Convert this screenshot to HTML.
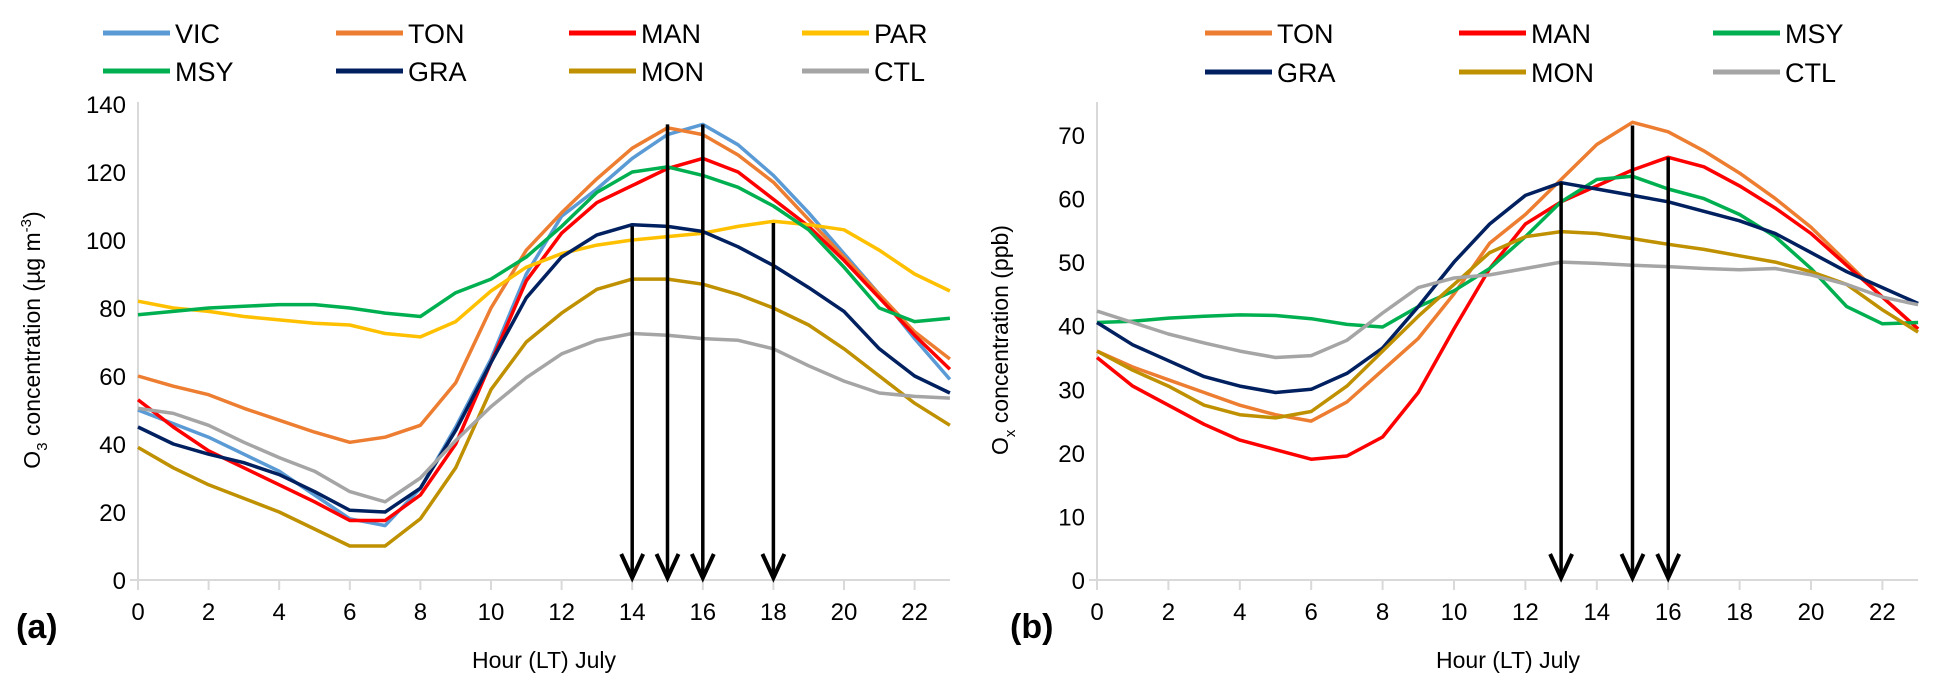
<!DOCTYPE html>
<html><head><meta charset="utf-8"><style>
html,body{margin:0;padding:0;background:#fff;}
svg{display:block;font-family:"Liberation Sans",sans-serif;}
</style></head><body>
<svg id="chart" width="1941" height="695" viewBox="0 0 1941 695" xmlns="http://www.w3.org/2000/svg"></svg>
<script>
const hours = [0,1,2,3,4,5,6,7,8,9,10,11,12,13,14,15,16,17,18,19,20,21,22,23];
const xTicksLabels = [0,2,4,6,8,10,12,14,16,18,20,22];
const aYTicks = [0,20,40,60,80,100,120,140];
const bYTicks = [0,10,20,30,40,50,60,70];
const aVIC = [50,46,42,37,32,25,18,16,27,45,65,90,107,115,124,131,134,128,119,108,96,84,71,59];
const aTON = [60,57,54.5,50.5,47,43.5,40.5,42,45.5,58,80,97,108,118,127,133,131,125,117,106,95,84,73,65];
const aMAN = [53,45,38,33,28,23,17.5,17.5,25,40,64,88,102,111,116,121,124,120,112,104,94,83,72,62];
const aPAR = [82,80,79,77.5,76.5,75.5,75,72.5,71.5,76,85,92,96,98.5,100,101,102,104,105.5,104.5,103,97,90,85];
const aMSY = [78,79,80,80.5,81,81,80,78.5,77.5,84.5,88.5,95,104,114,120,121.5,119,115.5,110,103,92,80,76,77];
const aGRA = [45,40,37,34.5,31,26,20.5,20,27,44,64,83,95,101.5,104.5,104,102.5,98,92.5,86,79,68,60,55];
const aMON = [39,33,28,24,20,15,10,10,18,33,56,70,78.5,85.5,88.5,88.5,87,84,80,75,68,60,52,45.5];
const aCTL = [50.5,49,45.5,40.5,36,32,26,23,30,41,51,59.5,66.5,70.5,72.5,72,71,70.5,68,63,58.5,55,54,53.5];
const bTON = [36,33.5,31.5,29.5,27.5,26,25,28,33,38,45,53,57.5,63,68.5,72,70.5,67.5,64,60,55.5,50,44.5,39.5];
const bMAN = [35,30.5,27.5,24.5,22,20.5,19,19.5,22.5,29.5,39.5,49,56,59.5,62,64.5,66.5,65,62,58.5,54.5,49.5,44.5,39.5];
const bMSY = [40.5,40.7,41.2,41.5,41.7,41.6,41.1,40.2,39.8,43,45.5,49,54,59.5,63,63.5,61.5,60,57.5,54,49,43,40.3,40.5];
const bGRA = [40.5,37,34.5,32,30.5,29.5,30,32.5,36.5,43,50,56,60.5,62.5,61.5,60.5,59.5,58,56.5,54.5,51.5,48.5,46,43.5];
const bMON = [36,33,30.5,27.5,26,25.5,26.5,30.5,36,41.5,46.5,51.5,54,54.8,54.5,53.7,52.8,52,51,50,48.5,46.5,42.5,39];
const bCTL = [42.3,40.5,38.7,37.3,36,35,35.3,37.7,42,46,47.5,48,49,50,49.8,49.5,49.3,49,48.8,49,48,46.5,44.5,43.3];
const aArrowHours = [14,15,16,18];
const aArrowTops = [104,134,134,105];
const bArrowHours = [13,15,16];
const bArrowTops = [62.5,71.5,66.5];

const C = {VIC:'#5b9bd5',TON:'#ed7d31',MAN:'#ff0000',PAR:'#ffc000',MSY:'#00b050',GRA:'#002060',MON:'#bf9000',CTL:'#a5a5a5'};
const svg = document.getElementById('chart');
const NS = 'http://www.w3.org/2000/svg';
function mk(tag, attrs, parent){const e=document.createElementNS(NS,tag);for(const k in attrs)e.setAttribute(k,attrs[k]);(parent||svg).appendChild(e);return e;}

function panel(cfg){
  const g = mk('g',{});
  
  
  const x = h => cfg.x0 + (h)*cfg.dx;
  const y = v => cfg.y0 - v/cfg.ymax*(cfg.y0-cfg.yTop);
  const xEnd = x(23);
  const ya = mk('line',{x1:cfg.x0,y1:cfg.axisTop,x2:cfg.x0,y2:cfg.y0,stroke:'#d9d9d9','stroke-width':2},g);
  
  
  const xa = mk('line',{x1:cfg.x0-8,y1:cfg.y0,x2:xEnd,y2:cfg.y0,stroke:'#d9d9d9','stroke-width':2},g);
  
  
  xTicksLabels.forEach(h=>{
    mk('line',{x1:x(h),y1:cfg.y0,x2:x(h),y2:cfg.y0+10,stroke:'#d9d9d9','stroke-width':2},g);
    const t = mk('text',{x:x(h),y:cfg.y0+40,'text-anchor':'middle','font-size':24,fill:'#000'},g);
    t.textContent = h;
    
    
  });
  cfg.yTicks.forEach(v=>{
    const t = mk('text',{x:cfg.x0-12,y:y(v)+9,'text-anchor':'end','font-size':24,fill:'#000'},g);
    t.textContent = v;
    
    
  });
  cfg.series.forEach(s=>{
    const d = s.data.map((v,i)=>(i?'L':'M')+x(hours[i]).toFixed(1)+','+y(v).toFixed(1)).join('');
    const p = mk('path',{d:d,fill:'none',stroke:C[s.key],'stroke-width':3.5,'stroke-linejoin':'round'},g);
    
    
  });
  cfg.arrowHours.forEach((h,i)=>{
    const ax = x(h), top = y(cfg.arrowTops[i]), bot = cfg.y0;
    const ag = mk('g',{},g);
    
    
    mk('line',{x1:ax,y1:top,x2:ax,y2:bot-2,stroke:'#000','stroke-width':3.5},ag);
    mk('polyline',{points:`${ax-11},${bot-26} ${ax},${bot-2} ${ax+11},${bot-26}`,fill:'none',stroke:'#000','stroke-width':4},ag);
  });
  cfg.legend.forEach(l=>{
    const lg = mk('g',{},g);
    
    
    mk('line',{x1:l.x,y1:l.y,x2:l.x+67,y2:l.y,stroke:C[l.key],'stroke-width':5},lg);
    const t = mk('text',{x:l.x+72,y:l.y+10,'font-size':27,fill:'#000'},lg);
    t.textContent = l.key;
  });
  const yt = mk('text',{transform:`translate(${cfg.ytX},${cfg.ytY}) rotate(-90)`,'text-anchor':'middle','font-size':23,fill:'#000'},g);
  yt.innerHTML = cfg.ytitle;
  
  
  const xt = mk('text',{x:cfg.xtX,y:668,'text-anchor':'middle','font-size':23,fill:'#000'},g);
  xt.textContent = 'Hour (LT) July';
  
  
  const pl = mk('text',{x:cfg.plX,y:638,'font-size':34,'font-weight':'bold',fill:'#000'},g);
  pl.textContent = cfg.label;
  
  
}

panel({name:'panel-a',id:'a',x0:138,dx:35.3,y0:580,yTop:104,ymax:140,axisTop:102,yTicks:aYTicks,
  series:[{key:'VIC',data:aVIC},{key:'TON',data:aTON},{key:'MAN',data:aMAN},{key:'PAR',data:aPAR},{key:'MSY',data:aMSY},{key:'GRA',data:aGRA},{key:'MON',data:aMON},{key:'CTL',data:aCTL}],
  arrowHours:aArrowHours,arrowTops:aArrowTops,
  legend:[{key:'VIC',x:103,y:33},{key:'TON',x:336,y:33},{key:'MAN',x:569,y:33},{key:'PAR',x:802,y:33},
          {key:'MSY',x:103,y:71},{key:'GRA',x:336,y:71},{key:'MON',x:569,y:71},{key:'CTL',x:802,y:71}],
  ytitle:'O<tspan font-size="15" dy="7">3</tspan><tspan dy="-7"> concentration (µg m</tspan><tspan font-size="15" dy="-9">-3</tspan><tspan dy="9">)</tspan>',
  ytX:40,ytY:340,xtX:544,plX:16,label:'(a)'});

panel({name:'panel-b',id:'b',x0:1097,dx:35.7,y0:580,yTop:135,ymax:70,axisTop:102,yTicks:bYTicks,
  series:[{key:'TON',data:bTON},{key:'MAN',data:bMAN},{key:'MSY',data:bMSY},{key:'GRA',data:bGRA},{key:'MON',data:bMON},{key:'CTL',data:bCTL}],
  arrowHours:bArrowHours,arrowTops:bArrowTops,
  legend:[{key:'TON',x:1205,y:33},{key:'MAN',x:1459,y:33},{key:'MSY',x:1713,y:33},
          {key:'GRA',x:1205,y:72},{key:'MON',x:1459,y:72},{key:'CTL',x:1713,y:72}],
  ytitle:'O<tspan font-size="15" dy="7">x</tspan><tspan dy="-7"> concentration (ppb)</tspan>',
  ytX:1008,ytY:340,xtX:1508,plX:1010,label:'(b)'});
</script>
</body></html>
